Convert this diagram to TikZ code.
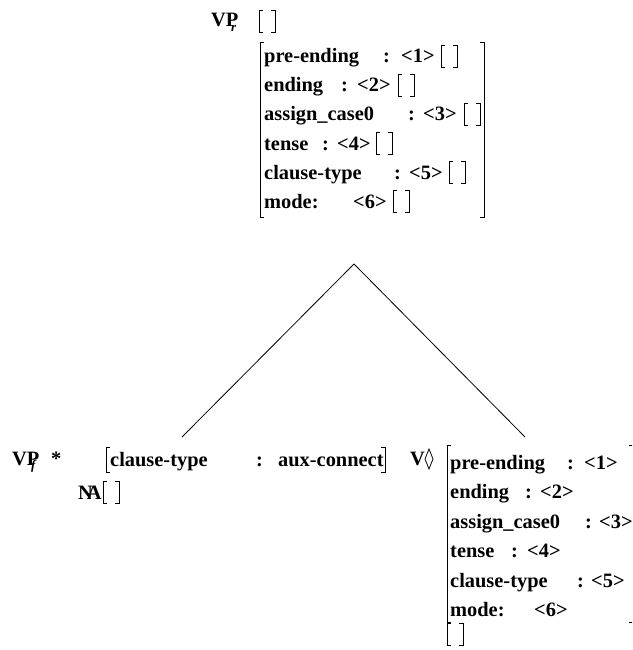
\documentclass[tikz,border=0pt]{standalone}
\usepackage{fontspec}
\setmainfont{Liberation Serif}
\newcommand{\eavm}[2]{%
  \draw[brk] (#1+4,#2) -- (#1,#2) -- (#1,#2+22) -- (#1+4,#2+22);
  \draw[brk] (#1+12,#2) -- (#1+16,#2) -- (#1+16,#2+22) -- (#1+12,#2+22);}
\begin{document}
\begin{tikzpicture}[x=1pt,y=-1pt,
  t/.style={inner sep=0pt,anchor=base west,font=\fontsize{20.4}{24}\selectfont\bfseries},
  sub/.style={inner sep=0pt,anchor=base west,font=\fontsize{13}{15}\selectfont\bfseries\itshape},
  brk/.style={line width=0.8pt},
  edge/.style={line width=0.8pt}]
\clip (0,0) rectangle (632,650);

% ---------- top: VP_r ----------
\node[t] (vpr) at (211,27) {VP};
\node[sub] (vprs) at (231,32) {r};
\eavm{259}{10}
\draw[brk] (264,42) -- (260,42) -- (260,217) -- (264,217);
\draw[brk] (480,42) -- (484,42) -- (484,217) -- (480,217);

\node[t] (a1) at (264,63) {pre-ending};
\node[t] (a1c) at (383,63) {:};
\node[t] (a1v) at (401,63) {<1>};
\eavm{441}{45}

\node[t] (a2) at (264,92) {ending};
\node[t] (a2c) at (341,92) {:};
\node[t] (a2v) at (357,92) {<2>};
\eavm{398}{74}

\node[t] (a3) at (264,121) {assign\_case0};
\node[t] (a3c) at (408,121) {:};
\node[t] (a3v) at (423,121) {<3>};
\eavm{464}{103}

\node[t] (a4) at (264,150) {tense};
\node[t] (a4c) at (322,150) {:};
\node[t] (a4v) at (337,150) {<4>};
\eavm{376}{132}

\node[t] (a5) at (264,179) {clause-type};
\node[t] (a5c) at (394,179) {:};
\node[t] (a5v) at (409,179) {<5>};
\eavm{449}{161}

\node[t] (a6) at (264,208) {mode:};
\node[t] (a6v) at (353,208) {<6>};
\eavm{393}{190}

% ---------- branches ----------
\coordinate (apex) at (354,264);
\coordinate (lend) at (182,437);
\coordinate (rend) at (525,437);
\draw[edge] (apex) -- (lend);
\draw[edge] (apex) -- (rend);

% ---------- bottom left: VP_f * ----------
\node[t] (vpf) at (12,465) {VP};
\node[sub] (vpfs) at (31,469) {f};
\node[t] (star) at (51,465) {*};
\draw[brk] (110,447) -- (106,447) -- (106,472) -- (110,472);
\draw[brk] (381,447) -- (385,447) -- (385,472) -- (381,472);
\node[t] (b1) at (110,466) {clause-type};
\node[t] (b1c) at (256,466) {:};
\node[t] (b1v) at (278,466) {aux-connect};
\node[t] (na) at (78,499) {N\kern-6pt A};
\eavm{103}{481}

% ---------- bottom right: V<> ----------
\node[t] (vd) at (410,465) {V};
\draw[brk] (429,449) -- (433,459) -- (429,469) -- (425,459) -- cycle;
\draw[brk] (451,445) -- (447,445) -- (447,622) -- (451,622);
\draw[brk] (629,445) -- (633,445) -- (633,622) -- (629,622);

\node[t] (c1) at (450,469) {pre-ending};
\node[t] (c1c) at (567,469) {:};
\node[t] (c1v) at (584,469) {<1>};

\node[t] (c2) at (450,498) {ending};
\node[t] (c2c) at (525,498) {:};
\node[t] (c2v) at (540,498) {<2>};

\node[t] (c3) at (450,528) {assign\_case0};
\node[t] (c3c) at (585,528) {:};
\node[t] (c3v) at (599,528) {<3>};

\node[t] (c4) at (450,557) {tense};
\node[t] (c4c) at (511,557) {:};
\node[t] (c4v) at (527,557) {<4>};

\node[t] (c5) at (450,587) {clause-type};
\node[t] (c5c) at (577,587) {:};
\node[t] (c5v) at (591,587) {<5>};

\node[t] (c6) at (450,616) {mode:};
\node[t] (c6v) at (534,616) {<6>};
\eavm{447}{623}
\end{tikzpicture}
\end{document}
